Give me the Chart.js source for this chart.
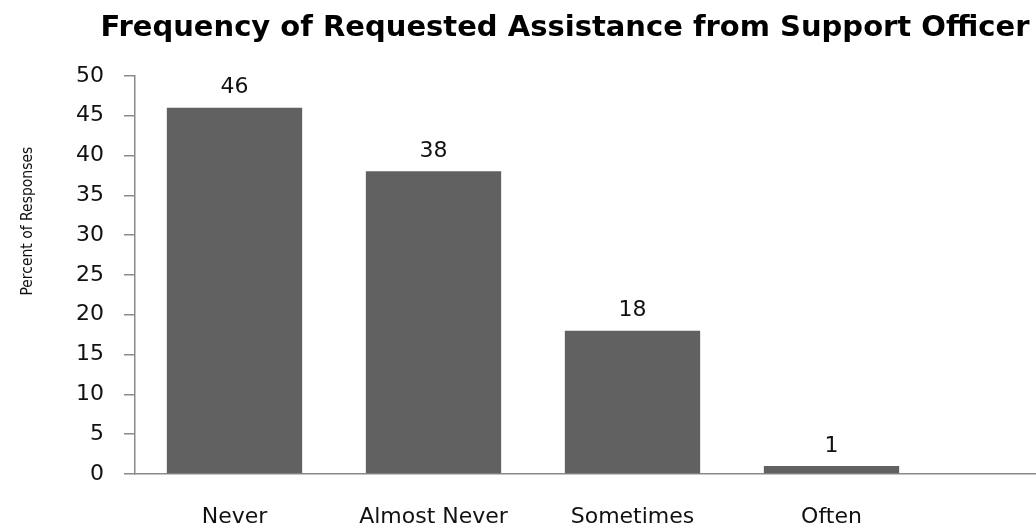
<!DOCTYPE html>
<html>
<head>
<meta charset="utf-8">
<script src="https://cdn.jsdelivr.net/npm/chart.js@4/dist/chart.umd.min.js"></script>
<style>
    html, body { margin: 0; padding: 0; background: #fff; }
    #wrap { width: 1036px; height: 531px; overflow: hidden; }
</style>
</head>
<body>
<div id="wrap">
    <canvas id="freq-chart" width="1130" height="531"></canvas>
</div>
<script>
// Response categories; the trailing blank slot keeps the axis running on past "Often"
const categories = ['Never', 'Almost Never', 'Sometimes', 'Often', ''];
const percents = [46, 38, 18, 1, null];
const yMin = 0;
const yMax = 50;
const yStep = 5;

const chartTitle = 'Frequency of Requested Assistance from Support Officer';
const yAxisTitle = 'Percent of Responses';

const axisGray = '#8a8a8a';
const barGray = '#616161';

// writes the value above each bar
const valueLabels = {
    id: 'valueLabels',
    afterDatasetsDraw(chart) {
        const ctx = chart.ctx;
        const meta = chart.getDatasetMeta(0);
        ctx.save();
        ctx.font = '22px "DejaVu Sans"';
        ctx.fillStyle = '#111';
        ctx.textAlign = 'center';
        ctx.textBaseline = 'middle';
        meta.data.forEach(function(bar, i) {
            const v = percents[i];
            if (v === null) return;
            ctx.fillText(String(v), bar.x, bar.y - 20);
        });
        ctx.restore();
    }
};

// rotated y axis caption, sitting a little above the middle of the axis
const yCaption = {
    id: 'yCaption',
    afterDraw(chart) {
        const ctx = chart.ctx;
        const area = chart.chartArea;
        ctx.save();
        ctx.translate(28, area.top + (area.bottom - area.top) * 0.365);
        ctx.rotate(-Math.PI / 2);
        ctx.font = '15.5px "DejaVu Sans Condensed", "DejaVu Sans"';
        ctx.fillStyle = '#111';
        ctx.textAlign = 'center';
        ctx.textBaseline = 'middle';
        ctx.fillText(yAxisTitle, 0, 0);
        ctx.restore();
    }
};

const ctx = document.getElementById('freq-chart').getContext('2d');
new Chart(ctx, {
    type: 'bar',
    data: {
        labels: categories,
        datasets: [{
            label: yAxisTitle,
            data: percents,
            backgroundColor: barGray,
            borderWidth: 0,
            categoryPercentage: 1,
            barPercentage: 0.68
        }]
    },
    options: {
        responsive: false,
        animation: false,
        layout: { padding: 0 },
        plugins: {
            legend: { display: false },
            tooltip: { enabled: false },
            title: {
                display: true,
                text: chartTitle,
                color: '#000',
                font: { family: 'DejaVu Sans', size: 29, weight: 'bold' },
                padding: { top: 11, bottom: 30 }
            }
        },
        scales: {
            x: {
                grid: { display: false, drawTicks: false },
                border: { display: true, color: axisGray, width: 1.5 },
                ticks: {
                    color: '#111',
                    font: { family: 'DejaVu Sans', size: 22 },
                    padding: 30,
                    maxRotation: 0,
                    autoSkip: false
                },
                afterFit(scale) { scale.height = 57; }
            },
            y: {
                min: yMin,
                max: yMax,
                ticks: {
                    stepSize: yStep,
                    color: '#111',
                    font: { family: 'DejaVu Sans', size: 22 },
                    padding: 20
                },
                grid: {
                    drawOnChartArea: false,
                    tickLength: 11,
                    color: axisGray,
                    lineWidth: 1.5
                },
                border: { display: true, color: axisGray, width: 1.5 },
                afterFit(scale) { scale.width = 135; }
            }
        }
    },
    plugins: [valueLabels, yCaption]
});
</script>
</body>
</html>
